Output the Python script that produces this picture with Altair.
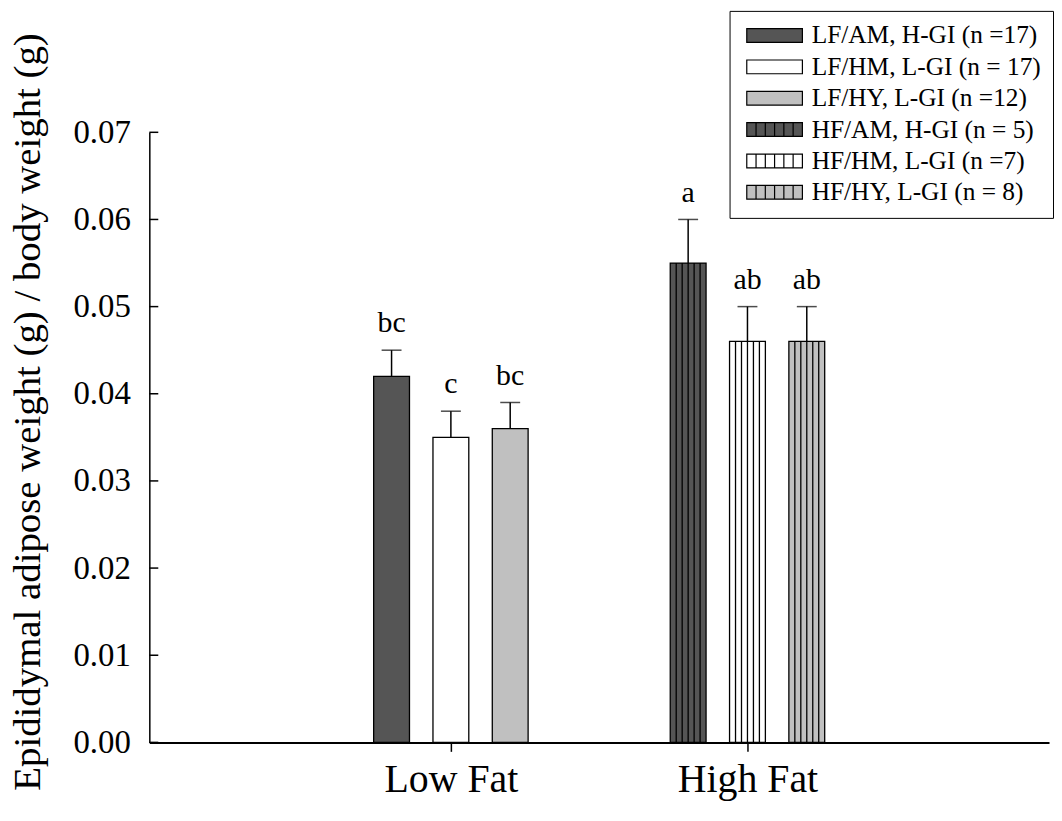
import altair as alt
import pandas as pd

groups = ["Low Fat", "High Fat"]
series = [
    "LF/AM, H-GI (n =17)",
    "LF/HM, L-GI (n = 17)",
    "LF/HY, L-GI (n =12)",
    "HF/AM, H-GI (n = 5)",
    "HF/HM, L-GI (n =7)",
    "HF/HY, L-GI (n = 8)",
]
means = [0.042, 0.035, 0.036, 0.055, 0.046, 0.046]
errors = [0.003, 0.003, 0.003, 0.005, 0.004, 0.004]
letters = ["bc", "c", "bc", "a", "ab", "ab"]
y_ticks = [0.00, 0.01, 0.02, 0.03, 0.04, 0.05, 0.06, 0.07]
y_title = "Epididymal adipose weight (g) / body weight (g)"

palette = ["#555555", "#ffffff", "#c0c0c0", "#555555", "#ffffff", "#c0c0c0"]
solid = "M-2.43,-0.6H2.43V0.6H-2.43Z"
striped = solid + "".join(f"M{x},-0.6V0.6" for x in ["-1.62", "-0.81", "0", "0.81", "1.62"])
shapes = [solid, solid, solid, striped, striped, striped]

df = pd.DataFrame({
    "series": series,
    "mean": means,
    "err": errors,
    "letter": letters,
    "gi": [i // 3 for i in range(len(series))],
    "pi": [i % 3 for i in range(len(series))],
})
ticks_df = pd.DataFrame({"t": y_ticks})
title_df = pd.DataFrame({"label": [y_title]})

FONT = "Liberation Serif"

base = alt.Chart(df).transform_calculate(
    xc="datum.gi + (datum.pi - 1) * 0.2",
    upper="datum.mean + datum.err",
)

xscale = alt.Scale(domain=[-1, 2], nice=False, zero=False)
yscale = alt.Scale(domain=[0, 0.07], nice=False)

label_expr = f"datum.value == 0 ? '{groups[0]}' : '{groups[1]}'"

x_axis = alt.Axis(
    values=[0, 1], labelExpr=label_expr, title=None, grid=False,
    domainColor="black", domainWidth=2, tickColor="black", tickWidth=1.5,
    tickSize=9, labelFontSize=40, labelFont=FONT, labelColor="black",
    labelPadding=8,
)
y_axis = alt.Axis(
    values=y_ticks, format=".2f", grid=False, ticks=False, tickSize=0,
    domainColor="black", domainWidth=1.5, labelFontSize=33, labelFont=FONT,
    labelColor="black", labelPadding=19, title=None,
)
x_enc = alt.X("xc:Q", scale=xscale, axis=x_axis)
y_enc = alt.Y("mean:Q", scale=yscale, axis=y_axis)
y_up = alt.Y("upper:Q", scale=yscale, axis=y_axis)

fill_scale = alt.Scale(domain=series, range=palette)
stroke_scale = alt.Scale(domain=series, range=["black"] * len(series))
legend = alt.Legend(
    orient="none", legendX=583, legendY=-122, title=None,
    padding=12, strokeColor="black", fillColor="white",
    labelFont=FONT, labelFontSize=25.5, labelColor="black", labelLimit=400,
    labelOffset=24.5, symbolSize=529, symbolOffset=20.5,
    symbolOpacity=1, rowPadding=4.5,
    symbolStrokeColor="black", symbolStrokeWidth=1.2,
)

legend_layer = base.transform_filter("false").mark_point(
    strokeWidth=1.2, opacity=1, fillOpacity=1
).encode(
    x=x_enc, y=y_enc,
    fill=alt.Fill("series:N", scale=fill_scale, legend=legend),
    stroke=alt.Stroke("series:N", scale=stroke_scale, legend=legend),
    shape=alt.Shape("series:N", scale=alt.Scale(domain=series, range=shapes), legend=legend),
)

bars = base.mark_bar(size=36, orient="vertical", strokeWidth=1.3).encode(
    x=x_enc, y=y_enc,
    fill=alt.Fill("series:N", scale=fill_scale, legend=legend),
    stroke=alt.Stroke("series:N", scale=stroke_scale, legend=legend),
)

stripes = [
    base.transform_filter("datum.gi == 1").mark_rule(
        xOffset=6 * k, color="black", strokeWidth=1.3
    ).encode(x=x_enc, y=y_enc, y2=alt.datum(0))
    for k in [-2, -1, 0, 1, 2]
]

err_rule = base.mark_rule(color="black", strokeWidth=1.5).encode(
    x=x_enc, y=y_enc, y2="upper:Q"
)
err_cap = base.mark_tick(orient="horizontal", size=20, thickness=1.5, color="black").encode(
    x=x_enc, y=y_up
)
texts = base.mark_text(
    baseline="alphabetic", dy=-18, fontSize=30, font=FONT, color="black"
).encode(x=x_enc, y=y_up, text="letter:N")

inner_ticks = alt.Chart(ticks_df).mark_rule(color="black", strokeWidth=1.5).encode(
    y=alt.Y("t:Q", scale=yscale, axis=y_axis), x=alt.value(0), x2=alt.value(9)
)

title_text = alt.Chart(title_df).mark_text(
    angle=270, align="center", baseline="middle", fontSize=39, font=FONT, color="black"
).encode(x=alt.value(-122), y=alt.value(281), text="label:N")

chart = alt.layer(
    bars, legend_layer, err_rule, *stripes, err_cap, texts, inner_ticks, title_text
).properties(
    width=904, height=613,
    padding={"left": 0, "top": 0, "right": 0, "bottom": 0},
).configure(font=FONT).configure_view(stroke=None).configure_axis(
    labelFont=FONT
).configure_legend(labelFont=FONT)

chart.save("out.html", embed_options={"renderer": "svg", "actions": False})
